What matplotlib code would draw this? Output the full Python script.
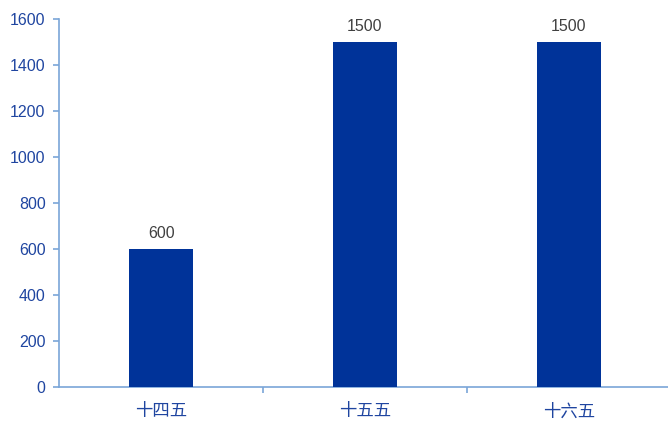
import matplotlib
matplotlib.use("Agg")
import matplotlib.pyplot as plt
from matplotlib.ticker import FixedLocator

plt.rcParams["font.family"] = ["Liberation Sans", "Noto Sans CJK SC", "DejaVu Sans"]

categories = ["十四五", "十五五", "十六五"]
values = [600, 1500, 1500]
y_ticks = [0, 200, 400, 600, 800, 1000, 1200, 1400, 1600]

BAR = "#003399"
AXIS = "#7aa6d8"
TICK_TEXT = "#1f45a0"

fig = plt.figure(figsize=(6.68, 4.21), dpi=100)
# axes runs slightly past the right edge, as in the original
ax = fig.add_axes([59.5 / 668, 34 / 421, 611 / 668, 368 / 421])

x = range(len(categories))
bars = ax.bar(x, values, width=0.315, color=BAR, zorder=3)

for b, v in zip(bars, values):
    ax.text(b.get_x() + b.get_width() / 2, v + 35, str(v), ha="center", va="bottom",
            fontsize=11.5, color="#404040")

ax.set_xlim(-0.5, len(categories) - 0.5)
ax.set_ylim(0, 1600)
ax.set_yticks(y_ticks)
ax.set_xticks(list(x))
ax.set_xticklabels(categories, fontfamily=["Noto Sans CJK SC", "DejaVu Sans"], fontsize=12.5)
ax.xaxis.set_minor_locator(FixedLocator([0.5, 1.5]))

for s in ["top", "right"]:
    ax.spines[s].set_visible(False)
for s in ["left", "bottom"]:
    ax.spines[s].set_color(AXIS)
    ax.spines[s].set_linewidth(1.2)

ax.tick_params(axis="y", colors=AXIS, labelcolor=TICK_TEXT, labelsize=11.5, length=4, width=1.2, pad=6)
ax.tick_params(axis="x", which="major", length=0, labelcolor=TICK_TEXT, pad=11)
ax.tick_params(axis="x", which="minor", colors=AXIS, length=4, width=1.2)

fig.savefig("out.png", dpi=100)
